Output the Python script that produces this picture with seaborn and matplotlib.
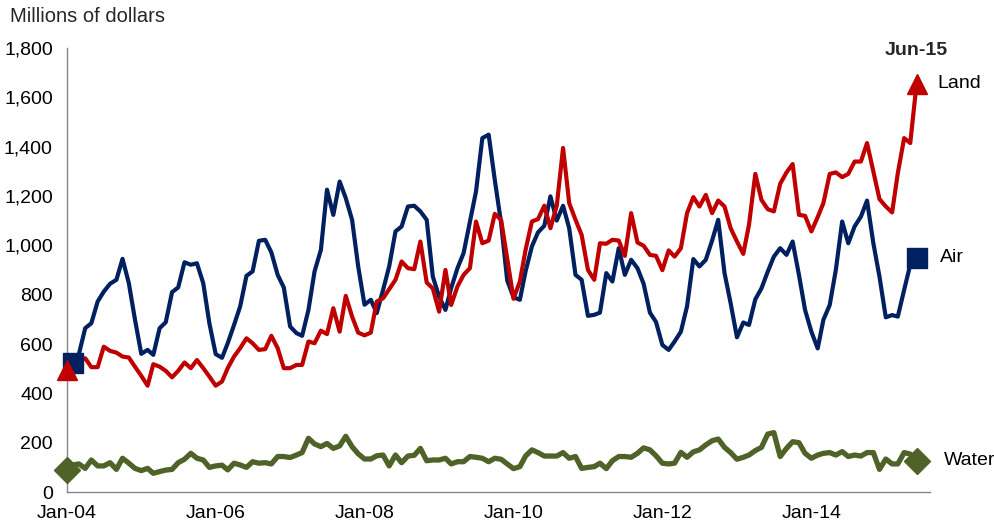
import matplotlib
matplotlib.use("Agg")
import matplotlib.pyplot as plt
import matplotlib.dates as mdates
from matplotlib.ticker import FuncFormatter, MultipleLocator
import pandas as pd
import seaborn as sns

# monthly values, Jan-04 .. Jun-15 (millions of dollars)
land = [
    495, 520, 536, 543, 507, 507, 590, 573, 566, 550, 546, 509,
    472, 432, 519, 509, 492, 466, 492, 526, 503, 536, 503, 469,
    432, 449, 503, 550, 584, 624, 604, 577, 580, 634, 584, 503,
    503, 516, 516, 611, 604, 655, 641, 746, 651, 796, 712, 647,
    636, 647, 773, 786, 823, 861, 935, 908, 904, 1016, 850, 826,
    732, 901, 759, 834, 881, 908, 1097, 1009, 1020, 1128, 1104, 948,
    784, 854, 982, 1097, 1107, 1161, 1070, 1161, 1395, 1172, 1104, 1043,
    901, 861, 1009, 1007, 1023, 1020, 958, 1131, 1012, 999, 962, 958,
    900, 980, 955, 989, 1131, 1196, 1158, 1205, 1131, 1182, 1158, 1070,
    1016, 966, 1084, 1290, 1185, 1147, 1138, 1250, 1296, 1330, 1124, 1120,
    1057, 1115, 1172, 1290, 1296, 1277, 1290, 1340, 1340, 1415, 1300, 1188,
    1158, 1134, 1293, 1435, 1415, 1655,
]
air = [
    530, 525, 560, 665, 685, 773, 813, 845, 861, 946, 847, 700,
    561, 577, 557, 665, 689, 811, 830, 932, 922, 928, 847, 685,
    560, 545, 604, 678, 753, 877, 895, 1019, 1023, 972, 881, 830,
    672, 645, 634, 739, 895, 982, 1226, 1124, 1259, 1192, 1104, 915,
    760, 780, 726, 820, 915, 1057, 1077, 1158, 1161, 1138, 1104, 874,
    793, 739, 827, 908, 969, 1097, 1219, 1435, 1449, 1266, 1091, 858,
    790, 780, 895, 996, 1053, 1080, 1199, 1101, 1161, 1070, 881, 861,
    715, 719, 728, 888, 854, 989, 881, 942, 908, 845, 728, 690,
    597, 577, 611, 651, 753, 945, 915, 942, 1020, 1104, 888, 766,
    628, 688, 678, 782, 826, 894, 955, 989, 962, 1016, 881, 739,
    651, 583, 699, 759, 901, 1097, 1009, 1077, 1117, 1182, 1009, 874,
    709, 718, 712, 820, 922, 951,
]
water = [
    90, 111, 115, 97, 131, 107, 107, 120, 93, 138, 118, 97,
    88, 97, 77, 84, 90, 93, 120, 134, 158, 138, 131, 101,
    107, 110, 91, 118, 111, 101, 124, 118, 120, 115, 145, 145,
    141, 151, 161, 219, 196, 185, 198, 178, 188, 227, 185, 156,
    135, 135, 148, 151, 107, 151, 120, 147, 150, 178, 128, 131,
    131, 138, 115, 124, 124, 145, 142, 138, 124, 138, 134, 115,
    96, 104, 147, 172, 161, 147, 147, 147, 161, 138, 145, 97,
    101, 104, 118, 96, 128, 145, 145, 142, 158, 180, 172, 148,
    118, 115, 118, 162, 142, 164, 172, 192, 209, 216, 182, 161,
    134, 142, 151, 169, 182, 236, 242, 145, 178, 205, 201, 158,
    138, 151, 158, 161, 151, 165, 145, 151, 147, 161, 161, 93,
    135, 115, 115, 161, 155, 127,
]
dates = pd.date_range("2004-01-01", periods=len(land), freq="MS")

# name, values, colour, marker, marker size, line width, label offset,
# index of the point that carries the first marker
series = [
    ("Air", air, "#002060", "s", 14, 3.0, 17, 1),
    ("Land", land, "#C00000", "^", 15, 3.0, 15, 0),
    ("Water", water, "#4F6228", "D", 13, 3.8, 19.5, 0),
]

sns.set_style("white")
plt.rcParams["font.family"] = ["Liberation Sans", "DejaVu Sans"]

fig = plt.figure(figsize=(9.95, 5.27), dpi=100)
ax = fig.add_axes([0.067, 0.0658, 0.8677, 0.8431])

for name, values, color, marker, ms, lw, offset, first in series:
    sns.lineplot(x=dates, y=values, ax=ax, color=color, linewidth=lw)
    ax.plot([dates[first], dates[-1]], [values[first], values[-1]], linestyle="none",
            marker=marker, markersize=ms, color=color, clip_on=False, zorder=5)
    ax.annotate(name, xy=(dates[-1], values[-1]), xytext=(offset, 0),
                textcoords="offset points", ha="left", va="center",
                fontsize=14, color="black", annotation_clip=False)

ax.text(dates[-1], 1788, "Jun-15", ha="center", va="center",
        fontsize=14, fontweight="bold")
fig.text(10 / 995, 1 - 16 / 527, "Millions of dollars", ha="left",
         va="center", fontsize=14.5)

ax.set_xlim(pd.Timestamp("2004-01-01"), pd.Timestamp("2015-08-06"))
ax.set_ylim(0, 1800)
ax.yaxis.set_major_locator(MultipleLocator(200))
ax.yaxis.set_major_formatter(FuncFormatter(lambda v, p: f"{int(v):,}"))
ax.xaxis.set_major_locator(mdates.YearLocator(2, month=1, day=1))
ax.xaxis.set_minor_locator(mdates.MonthLocator(bymonth=[1, 7]))
ax.xaxis.set_major_formatter(mdates.DateFormatter("%b-%y"))
ax.set_xlabel("")
ax.set_ylabel("")

for side in ["top", "right"]:
    ax.spines[side].set_visible(False)
for side in ["left", "bottom"]:
    ax.spines[side].set_color("#868686")
    ax.spines[side].set_linewidth(1.0)

ax.tick_params(axis="both", which="both", direction="out", color="#868686",
               length=4, width=1, labelsize=14, labelcolor="black")
ax.tick_params(axis="y", pad=6)
ax.tick_params(axis="x", pad=5)
ax.grid(False)

fig.savefig("out.png", dpi=100)
